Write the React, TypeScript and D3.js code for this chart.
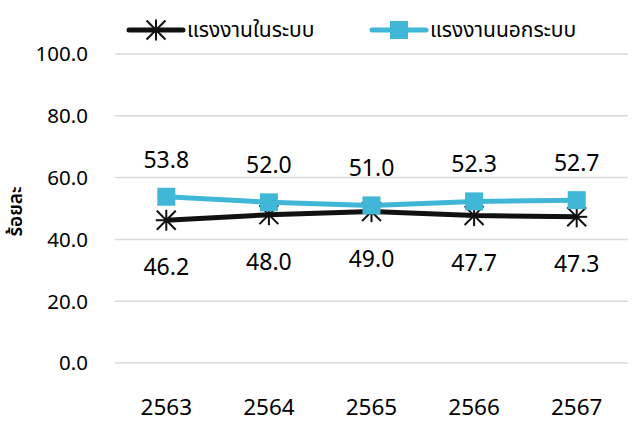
import React from "react";
import * as d3 from "d3";

const years = ["2563", "2564", "2565", "2566", "2567"];
const formal = [46.2, 48.0, 49.0, 47.7, 47.3];
const informal = [53.8, 52.0, 51.0, 52.3, 52.7];
const yTicks = [0, 20, 40, 60, 80, 100];
const seriesNames = ["แรงงานในระบบ", "แรงงานนอกระบบ"];

const W = 636, H = 421;
const FONT = "'Noto Sans', 'Noto Sans Thai', Tahoma, sans-serif";
const BLACK = "#111111";
const BLUE = "#41B7D7";

function Star({ x, y, s }: { x: number; y: number; s: number }) {
  const r = s / 2;
  const d = r * 0.9;
  return (
    <g stroke={BLACK} strokeWidth={2}>
      <line x1={x - r} y1={y} x2={x + r} y2={y} />
      <line x1={x - d} y1={y - d} x2={x + d} y2={y + d} />
      <line x1={x - d} y1={y + d} x2={x + d} y2={y - d} />
      <line x1={x} y1={y - r} x2={x} y2={y + r} />
    </g>
  );
}

export default function App() {
  const x = d3.scaleBand().domain(years).range([115, 628]);
  const y = d3.scaleLinear().domain([0, 100]).range([363, 54]);
  const cx = (d: string) => (x(d) as number) + x.bandwidth() / 2;
  const line = d3
    .line<number>()
    .x((_, i) => cx(years[i]))
    .y((v) => y(v));

  return (
    <svg
      width={W}
      height={H}
      style={{ position: "absolute", left: 0, top: 0, background: "#fff" }}
      fontFamily={FONT}
    >
      {yTicks.map((t) => (
        <g key={t}>
          <line x1={115} x2={628} y1={y(t)} y2={y(t)} stroke="#d9d9d9" strokeWidth={1.5} />
          <text x={88} y={y(t)} dy="0.36em" textAnchor="end" fontSize={20.5} fill="#000">
            {t.toFixed(1)}
          </text>
        </g>
      ))}
      {years.map((yr) => (
        <text key={yr} x={cx(yr)} y={415} textAnchor="middle" fontSize={22.5} fill="#000">
          {yr}
        </text>
      ))}
      <text
        transform={`translate(22,${y(50) + 3}) rotate(-90)`}
        textAnchor="middle"
        fontSize={19}
        fontWeight={600}
        fill="#000"
      >
        ร้อยละ
      </text>

      <path d={line(formal) || ""} fill="none" stroke={BLACK} strokeWidth={5} strokeLinejoin="round" />
      {formal.map((v, i) => (
        <Star key={i} x={cx(years[i])} y={y(v)} s={21} />
      ))}
      <path d={line(informal) || ""} fill="none" stroke={BLUE} strokeWidth={5} strokeLinejoin="round" />
      {informal.map((v, i) => (
        <rect key={i} x={cx(years[i]) - 9} y={y(v) - 9} width={18} height={18} fill={BLUE} />
      ))}

      {informal.map((v, i) => (
        <text key={i} x={cx(years[i])} y={y(v) - 29} textAnchor="middle" fontSize={23} fill="#000">
          {v.toFixed(1)}
        </text>
      ))}
      {formal.map((v, i) => (
        <text key={i} x={cx(years[i])} y={y(v) + 55} textAnchor="middle" fontSize={23} fill="#000">
          {v.toFixed(1)}
        </text>
      ))}

      <g>
        <line x1={129} x2={183} y1={30} y2={30} stroke={BLACK} strokeWidth={5} strokeLinecap="round" />
        <Star x={156} y={30} s={21} />
        <text x={187} y={30} dy="0.35em" fontSize={21} fill="#000">
          {seriesNames[0]}
        </text>
        <line x1={372} x2={426} y1={30} y2={30} stroke={BLUE} strokeWidth={5} strokeLinecap="round" />
        <rect x={390} y={21} width={18} height={18} fill={BLUE} />
        <text x={430} y={30} dy="0.35em" fontSize={21} fill="#000">
          {seriesNames[1]}
        </text>
      </g>
    </svg>
  );
}
